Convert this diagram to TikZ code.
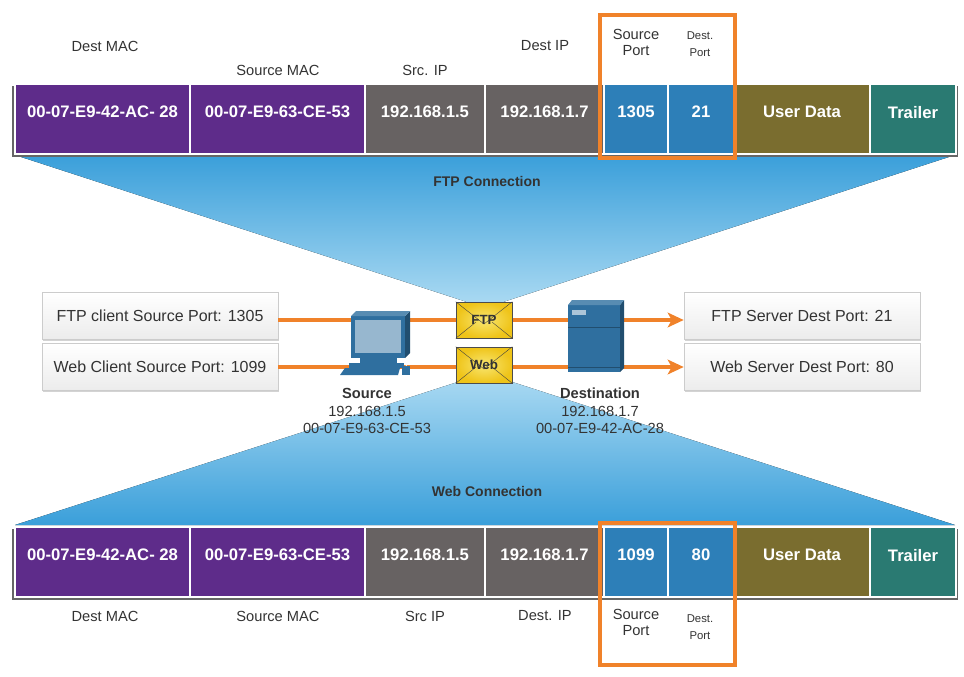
\documentclass[tikz,border=0pt]{standalone}
\usepackage{fontspec}
\setmainfont{Liberation Sans}
\usetikzlibrary{calc,arrows.meta,shadows,positioning}
\definecolor{macpurple}{HTML}{5E2C8A}
\definecolor{ipgray}{HTML}{676262}
\definecolor{portblue}{HTML}{2D7FB8}
\definecolor{dataolive}{HTML}{7A6D2F}
\definecolor{trailteal}{HTML}{2A7A72}
\definecolor{boxorange}{HTML}{F0822A}
\definecolor{funneldark}{HTML}{3A9FDA}
\definecolor{funnellight}{HTML}{A9D9F2}
\definecolor{pcblue}{HTML}{2F6F9F}
\definecolor{txtgray}{HTML}{333333}
\definecolor{envgold}{HTML}{EFC419}
\tikzset{
  cell/.style={draw=white,line width=1.5pt},
  lbl/.style={text=txtgray,font=\fontsize{11}{13}\selectfont,align=center},
  small/.style={text=txtgray,font=\fontsize{8.5}{13}\selectfont,align=center},
  sidebox/.style={draw=gray!40,top color=white,bottom color=gray!15,drop shadow={opacity=0.35,shadow xshift=1pt,shadow yshift=-1.5pt},
    minimum width=177pt,minimum height=35pt,text=txtgray,font=\fontsize{12}{14}\selectfont},
  flow/.style={boxorange,line width=2.5pt,-{Stealth[length=12pt,width=11pt,inset=3pt]}},
  env/.style={draw=gray!60!black,inner color=yellow!30!envgold!60,outer color=envgold,minimum width=42pt,minimum height=27pt,inner sep=0pt},
  portbox/.style={draw=boxorange,line width=3pt}
}
\begin{document}
\begin{tikzpicture}[x=0.75pt,y=-0.75pt]
\useasboundingbox (0,0) rectangle (964,676);
% funnels
\fill[top color=funneldark,bottom color=funnellight] (15,155) -- (955,155) -- (500,303) -- (470,303) -- cycle;
\fill[top color=funnellight,bottom color=funneldark] (470,378) -- (500,378) -- (955,525) -- (15,525) -- cycle;
\node[text=txtgray,font=\bfseries\fontsize{10.5}{12}\selectfont] (ftpcon) at (487,181) {FTP Connection};
\node[text=txtgray,font=\bfseries\fontsize{10.5}{12}\selectfont] (webcon) at (487,491) {Web Connection};
% frame rows
\foreach \y/\sp/\dp/\r in {119/1305/21/t,562/1099/80/b}{
  \fill[black!60] (12,\y-33) rectangle (958,\y+38);
  \foreach \xa/\xb/\col/\txt/\n in {15/190/macpurple/{00-07-E9-42-AC- 28}/1,190/365/macpurple/00-07-E9-63-CE-53/2,
      365/485/ipgray/192.168.1.5/3,485/604/ipgray/192.168.1.7/4,604/668/portblue/\sp/5,668/734/portblue/\dp/6,
      734/870/dataolive/User Data/7,870/956/trailteal/Trailer/8}{
    \path[cell,fill=\col] (\xa,\y-35) rectangle (\xb,\y+35);
    \node[text=white,font=\bfseries\fontsize{12.5}{14}\selectfont] (c\r\n) at ({(\xa+\xb)/2},\y-7) {\txt};
  }
}
\draw[portbox] (600,15) rectangle (735,158);
\draw[portbox] (600,523) rectangle (735,665);
% labels top
\node[lbl] (tl1) at (105,46) {Dest MAC};
\node[lbl] (tl2) at (278,70) {Source MAC};
\node[lbl] (tl3) at (425,70) {Src. IP};
\node[lbl] (tl4) at (545,46) {Dest IP};
\node[lbl,font=\fontsize{11}{12}\selectfont] (tl5) at (636,42) {Source\\Port};
\node[small] (tl6) at (700,44) {Dest.\\Port};
% labels bottom
\node[lbl] (bl1) at (105,616) {Dest MAC};
\node[lbl] (bl2) at (278,616) {Source MAC};
\node[lbl] (bl3) at (425,616) {Src IP};
\node[lbl] (bl4) at (545,616) {Dest. IP};
\node[lbl,font=\fontsize{11}{12}\selectfont] (bl5) at (636,622) {Source\\Port};
\node[small] (bl6) at (700,627) {Dest.\\Port};
% side boxes
\node[sidebox] (ftpcli) at (160,316) {FTP client Source Port: 1305};
\node[sidebox] (webcli) at (160,367) {Web Client Source Port: 1099};
\node[sidebox] (ftpsrv) at (802,316) {FTP Server Dest Port: 21};
\node[sidebox] (websrv) at (802,367) {Web Server Dest Port: 80};
\draw[flow] ([yshift=-3pt]ftpcli.east) -- ([yshift=-3pt]ftpsrv.west);
\draw[flow] (webcli.east) -- (websrv.west);
% envelopes
\foreach \n/\y/\t in {ftpenv/320/FTP,webenv/365/Web}{
  \node[env] (\n) at (484,\y) {};
  \draw[gray!50!black,line width=0.3pt] (\n.north west) -- ($(\n.center)+(0,4)$) -- (\n.north east);
  \draw[gray!50!black,line width=0.3pt] (\n.south west) -- ($(\n.center)+(-8,2)$) (\n.south east) -- ($(\n.center)+(8,2)$);
  \node[font=\bfseries\fontsize{10}{12}\selectfont,text=txtgray] at (\n) {\t};
}
% computer
\fill[pcblue] (351,316) -- (405,316) -- (405,358) -- (351,358) -- cycle;
\fill[pcblue!70!black] (405,316) -- (410,311) -- (410,353) -- (405,358) -- cycle;
\fill[pcblue!80!white] (351,316) -- (356,311) -- (410,311) -- (405,316) -- cycle;
\fill[pcblue!50!white] (355,320) rectangle (401,353);
\fill[pcblue] (360,358) rectangle (397,363);
\fill[pcblue] (349,363) rectangle (404,368);
\fill[pcblue] (345,368) -- (400,368) -- (398,375) -- (340,375) -- cycle;
\fill[pcblue] (402,366) rectangle (410,375);
\draw[white,line width=0.6pt] (406,366) to[bend left] (417,357);
\node[font=\bfseries\fontsize{11}{13}\selectfont,text=txtgray] (srcname) at (367,393) {Source};
\node[lbl,below=-1pt of srcname] (srcip) {192.168.1.5};
\node[lbl,below=-2pt of srcip] (srcmac) {00-07-E9-63-CE-53};
% server
\fill[pcblue] (568,305) rectangle (620,372);
\fill[pcblue!70!black] (620,305) -- (624,300) -- (624,368) -- (620,372) -- cycle;
\fill[pcblue!80!white] (568,305) -- (572,300) -- (624,300) -- (620,305) -- cycle;
\fill[pcblue!70!black] (568,327) rectangle (620,328);
\fill[pcblue!70!black] (568,367) rectangle (620,368);
\fill[pcblue!40!white] (572,310) rectangle (586,315);
\node[font=\bfseries\fontsize{11}{13}\selectfont,text=txtgray] (dstname) at (600,393) {Destination};
\node[lbl,below=-1pt of dstname] (dstip) {192.168.1.7};
\node[lbl,below=-2pt of dstip] (dstmac) {00-07-E9-42-AC-28};
\end{tikzpicture}
\end{document}
